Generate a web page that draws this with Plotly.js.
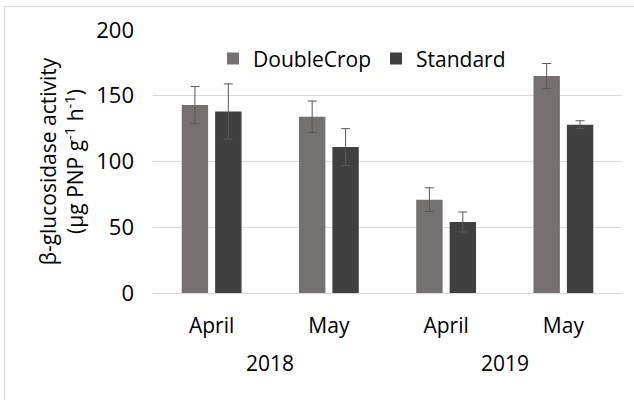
<!DOCTYPE html>
<html>
<head>
<meta charset="utf-8">
<script src="https://cdn.plot.ly/plotly-3.0.1.min.js"></script>
<style>
html,body{margin:0;padding:0;background:#fff;}
#chart{width:634px;height:400px;}
#frame{position:absolute;left:4px;top:6px;width:640px;height:400px;border-left:1px solid #d9d9d9;border-top:1px solid #d9d9d9;pointer-events:none;}
</style>
</head>
<body>
<div id="chart"></div>
<div id="frame"></div>
<script>
const years = ["2018", "2018", "2019", "2019"];
const months = ["April", "May", "April", "May"];
const doubleCrop = [143, 134, 71, 165];
const doubleCropErr = [14, 12, 9, 9.5];
const standard = [138, 111, 54, 128];
const standardErr = [21, 14, 7.6, 3];
const seriesNames = ["DoubleCrop", "Standard"];

const idx = months.map((m, i) => i);

const errStyle = {type: "data", visible: true, color: "#595959", thickness: 1, width: 4.5};

const traces = [
  {type: "bar", name: seriesNames[0], x: idx, y: doubleCrop,
   marker: {color: "#767171"},
   error_y: Object.assign({array: doubleCropErr}, errStyle)},
  {type: "bar", name: seriesNames[1], x: idx, y: standard,
   marker: {color: "#404040"},
   error_y: Object.assign({array: standardErr}, errStyle)}
];

// year group labels centred under their months
const yearList = [...new Set(years)];
const annotations = yearList.map(yr => {
  const pos = idx.filter(i => years[i] === yr);
  const cx = pos.reduce((a, b) => a + b, 0) / pos.length;
  return {text: yr, x: cx, xref: "x", y: 0, yref: "paper", yanchor: "middle",
          yshift: -70, showarrow: false, font: {size: 21, color: "#000"}};
});

const layout = {
  width: 634, height: 400,
  margin: {l: 153, r: 12, t: 30, b: 107},
  paper_bgcolor: "#fff", plot_bgcolor: "#fff",
  font: {family: "Open Sans, Liberation Sans, sans-serif", color: "#000", size: 20},
  barmode: "group", bargap: 0.43, bargroupgap: 0.21,
  showlegend: true,
  legend: {orientation: "h", x: 0.128, y: 0.89, xanchor: "left", yanchor: "middle",
           font: {size: 21, color: "#000"}, bgcolor: "rgba(0,0,0,0)"},
  annotations: annotations,
  xaxis: {range: [-0.5, 3.5], tickvals: idx, ticktext: months, showgrid: false,
          zeroline: false, showline: true, linecolor: "#d9d9d9", linewidth: 1, ticks: "",
          ticklabelstandoff: 14, tickfont: {size: 21, color: "#000"}},
  yaxis: {range: [0, 200], dtick: 50, showgrid: true, gridcolor: "#d9d9d9", gridwidth: 1,
          zeroline: false, showline: false, ticks: "",
          ticklabelstandoff: 18, tickfont: {size: 22, color: "#000"},
          title: {text: "β-glucosidase activity<br>(μg PNP g<sup>-1</sup> h<sup>-1</sup>)",
                  font: {size: 21, color: "#000"}, standoff: 6}}
};

Plotly.newPlot("chart", traces, layout, {staticPlot: true, displayModeBar: false});
</script>
</body>
</html>
